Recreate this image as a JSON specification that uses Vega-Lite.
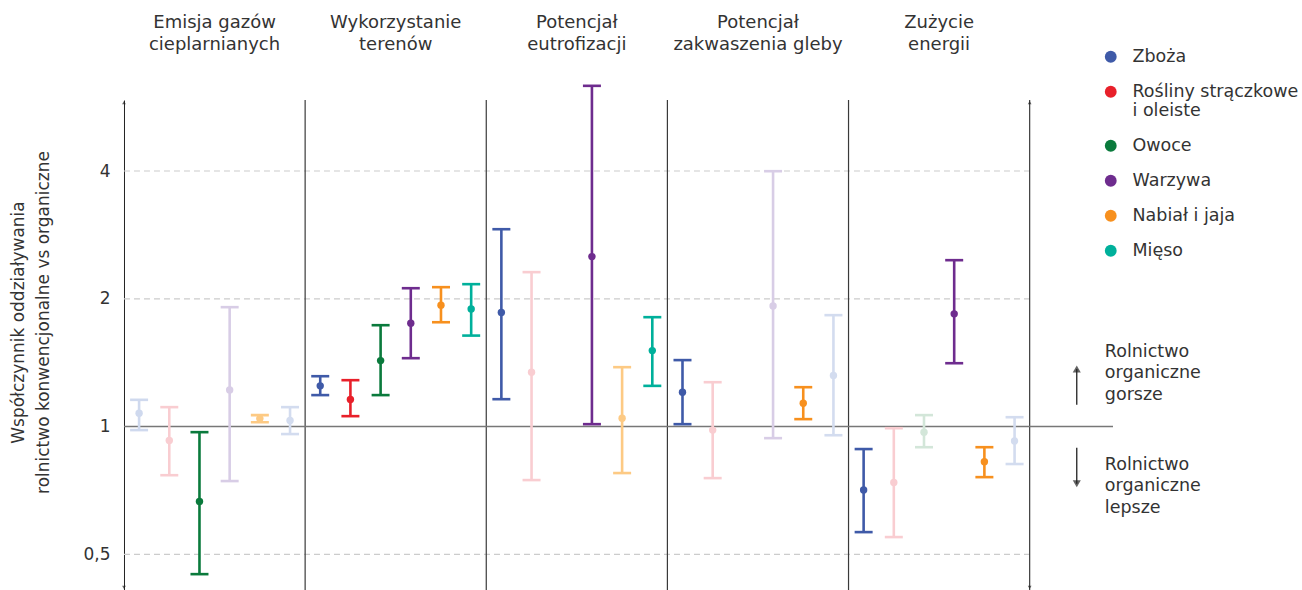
{
  "$schema": "https://vega.github.io/schema/vega-lite/v6.json",
  "width": 1086.8,
  "height": 490,
  "autosize": "none",
  "padding": {"left": 124, "top": 100, "right": 91, "bottom": 0},
  "background": "white",
  "config": {
    "font": "DejaVu Sans",
    "view": {"stroke": null},
    "axisY": {
      "grid": false,
      "ticks": false,
      "domainColor": "#222222",
      "domainWidth": 1,
      "labelPadding": 14,
      "labelFontSize": 17,
      "labelColor": "#333333",
      "titleFontSize": 17,
      "titleFontWeight": "normal",
      "titleColor": "#333333",
      "titleLineHeight": 25,
      "titleAngle": -90,
      "titleAlign": "center",
      "titleBaseline": "top",
      "titleX": -113,
      "titleY": 222
    },
    "axisX": {
      "orient": "top",
      "ticks": false,
      "domain": false,
      "grid": false,
      "labelAngle": 0,
      "labelFontSize": 18,
      "labelColor": "#333333",
      "labelLineHeight": 23,
      "labelPadding": 69,
      "labelLimit": 400,
      "labelOverlap": false,
      "title": null
    },
    "legend": {
      "orient": "none",
      "legendX": 978,
      "legendY": -52,
      "padding": 0,
      "title": null,
      "labelFontSize": 17.5,
      "labelColor": "#333333",
      "labelLimit": 400,
      "labelOffset": 13,
      "symbolType": "circle",
      "symbolSize": 140,
      "symbolStrokeWidth": 0,
      "rowPadding": 16
    }
  },
  "datasets": {
    "wyniki": [
      {"Obszar": "Emisja gazów cieplarnianych", "Grupa": "Zboża", "wartosc": 1.075, "dolna": 0.981, "gorna": 1.156, "istotny": false},
      {"Obszar": "Emisja gazów cieplarnianych", "Grupa": "Rośliny strączkowe i oleiste", "wartosc": 0.927, "dolna": 0.768, "gorna": 1.111, "istotny": false},
      {"Obszar": "Emisja gazów cieplarnianych", "Grupa": "Owoce", "wartosc": 0.666, "dolna": 0.449, "gorna": 0.970, "istotny": true},
      {"Obszar": "Emisja gazów cieplarnianych", "Grupa": "Warzywa", "wartosc": 1.220, "dolna": 0.744, "gorna": 1.911, "istotny": false},
      {"Obszar": "Emisja gazów cieplarnianych", "Grupa": "Nabiał i jaja", "wartosc": 1.044, "dolna": 1.024, "gorna": 1.064, "istotny": false},
      {"Obszar": "Emisja gazów cieplarnianych", "Grupa": "Mięso", "wartosc": 1.033, "dolna": 0.960, "gorna": 1.111, "istotny": false},
      {"Obszar": "Wykorzystanie terenów", "Grupa": "Zboża", "wartosc": 1.247, "dolna": 1.186, "gorna": 1.314, "istotny": true},
      {"Obszar": "Wykorzystanie terenów", "Grupa": "Rośliny strączkowe i oleiste", "wartosc": 1.158, "dolna": 1.058, "gorna": 1.286, "istotny": true},
      {"Obszar": "Wykorzystanie terenów", "Grupa": "Owoce", "wartosc": 1.430, "dolna": 1.186, "gorna": 1.733, "istotny": true},
      {"Obszar": "Wykorzystanie terenów", "Grupa": "Warzywa", "wartosc": 1.752, "dolna": 1.449, "gorna": 2.118, "istotny": true},
      {"Obszar": "Wykorzystanie terenów", "Grupa": "Nabiał i jaja", "wartosc": 1.932, "dolna": 1.761, "gorna": 2.130, "istotny": true},
      {"Obszar": "Wykorzystanie terenów", "Grupa": "Mięso", "wartosc": 1.893, "dolna": 1.638, "gorna": 2.165, "istotny": true},
      {"Obszar": "Potencjał eutrofizacji", "Grupa": "Zboża", "wartosc": 1.856, "dolna": 1.160, "gorna": 2.917, "istotny": true},
      {"Obszar": "Potencjał eutrofizacji", "Grupa": "Rośliny strączkowe i oleiste", "wartosc": 1.343, "dolna": 0.748, "gorna": 2.311, "istotny": false},
      {"Obszar": "Potencjał eutrofizacji", "Grupa": "Warzywa", "wartosc": 2.514, "dolna": 1.013, "gorna": 6.35, "istotny": true},
      {"Obszar": "Potencjał eutrofizacji", "Grupa": "Nabiał i jaja", "wartosc": 1.046, "dolna": 0.777, "gorna": 1.380, "istotny": false},
      {"Obszar": "Potencjał eutrofizacji", "Grupa": "Mięso", "wartosc": 1.510, "dolna": 1.247, "gorna": 1.810, "istotny": true},
      {"Obszar": "Potencjał zakwaszenia gleby", "Grupa": "Zboża", "wartosc": 1.205, "dolna": 1.013, "gorna": 1.434, "istotny": true},
      {"Obszar": "Potencjał zakwaszenia gleby", "Grupa": "Rośliny strączkowe i oleiste", "wartosc": 0.981, "dolna": 0.756, "gorna": 1.272, "istotny": false},
      {"Obszar": "Potencjał zakwaszenia gleby", "Grupa": "Warzywa", "wartosc": 1.924, "dolna": 0.939, "gorna": 3.996, "istotny": false},
      {"Obszar": "Potencjał zakwaszenia gleby", "Grupa": "Nabiał i jaja", "wartosc": 1.135, "dolna": 1.041, "gorna": 1.238, "istotny": true},
      {"Obszar": "Potencjał zakwaszenia gleby", "Grupa": "Mięso", "wartosc": 1.319, "dolna": 0.954, "gorna": 1.830, "istotny": false},
      {"Obszar": "Zużycie energii", "Grupa": "Zboża", "wartosc": 0.709, "dolna": 0.564, "gorna": 0.885, "istotny": true},
      {"Obszar": "Zużycie energii", "Grupa": "Rośliny strączkowe i oleiste", "wartosc": 0.738, "dolna": 0.549, "gorna": 0.991, "istotny": false},
      {"Obszar": "Zużycie energii", "Grupa": "Owoce", "wartosc": 0.970, "dolna": 0.894, "gorna": 1.064, "istotny": false},
      {"Obszar": "Zużycie energii", "Grupa": "Warzywa", "wartosc": 1.843, "dolna": 1.410, "gorna": 2.466, "istotny": true},
      {"Obszar": "Zużycie energii", "Grupa": "Nabiał i jaja", "wartosc": 0.826, "dolna": 0.760, "gorna": 0.894, "istotny": true},
      {"Obszar": "Zużycie energii", "Grupa": "Mięso", "wartosc": 0.925, "dolna": 0.816, "gorna": 1.052, "istotny": false}
    ],
    "adnotacje": [
      {"tekst": "Rolnictwo\norganiczne\ngorsze", "poz": 1.4995, "od": 1.125, "do": 1.367, "kierunek": "up"},
      {"tekst": "Rolnictwo\norganiczne\nlepsze", "poz": 0.8125, "od": 0.891, "do": 0.733, "kierunek": "down"}
    ]
  },
  "layer": [
    {
      "data": {"values": [{"v": 0.5}, {"v": 2}, {"v": 4}]},
      "mark": {"type": "rule", "color": "#cccccc", "strokeWidth": 1.2, "strokeDash": [6, 4]},
      "encoding": {
        "y": {"field": "v", "type": "quantitative", "scale": {"type": "log", "domain": [0.412, 5.88], "nice": false},
          "axis": {"values": [0.5, 1, 2, 4], "labelExpr": "replace(datum.label, '.', ',')", "title": ["Współczynnik oddziaływania", "rolnictwo konwencjonalne vs organiczne"]}},
        "x": {"datum": "Emisja gazów cieplarnianych", "type": "nominal", "bandPosition": 0,
          "scale": {"domain": ["Emisja gazów cieplarnianych", "Wykorzystanie terenów", "Potencjał eutrofizacji", "Potencjał zakwaszenia gleby", "Zużycie energii", "Adnotacje"], "paddingInner": 0, "paddingOuter": 0},
          "axis": {"bandPosition": 0.5, "labelExpr": "datum.label == 'Emisja gazów cieplarnianych' ? ['Emisja gazów', 'cieplarnianych'] : datum.label == 'Wykorzystanie terenów' ? ['Wykorzystanie', 'terenów'] : datum.label == 'Potencjał eutrofizacji' ? ['Potencjał', 'eutrofizacji'] : datum.label == 'Potencjał zakwaszenia gleby' ? ['Potencjał', 'zakwaszenia gleby'] : datum.label == 'Zużycie energii' ? ['Zużycie', 'energii'] : ''"}},
        "x2": {"datum": "Adnotacje", "bandPosition": 0}
      }
    },
    {
      "data": {"values": [{"Obszar": "Wykorzystanie terenów"}, {"Obszar": "Potencjał eutrofizacji"}, {"Obszar": "Potencjał zakwaszenia gleby"}, {"Obszar": "Zużycie energii"}, {"Obszar": "Adnotacje"}]},
      "mark": {"type": "rule", "color": "#3a3a3a", "strokeWidth": 1.2},
      "encoding": {
        "x": {"field": "Obszar", "type": "nominal", "bandPosition": 0,
          "scale": {"domain": ["Emisja gazów cieplarnianych", "Wykorzystanie terenów", "Potencjał eutrofizacji", "Potencjał zakwaszenia gleby", "Zużycie energii", "Adnotacje"], "paddingInner": 0, "paddingOuter": 0}}
      }
    },
    {
      "data": {"values": [{"v": 1}]},
      "mark": {"type": "rule", "color": "#777777", "strokeWidth": 1.5},
      "encoding": {
        "y": {"field": "v", "type": "quantitative", "scale": {"type": "log", "domain": [0.412, 5.88], "nice": false}},
        "x": {"datum": "Emisja gazów cieplarnianych", "type": "nominal", "bandPosition": 0},
        "x2": {"datum": "Adnotacje", "bandPosition": 0.46}
      }
    },
    {
      "data": {"values": [{"Obszar": "Emisja gazów cieplarnianych"}, {"Obszar": "Adnotacje"}]},
      "layer": [
        {
          "mark": {"type": "point", "shape": "triangle-up", "filled": true, "color": "#222222", "size": 14, "strokeWidth": 0},
          "encoding": {
            "x": {"field": "Obszar", "type": "nominal", "bandPosition": 0},
            "y": {"datum": 5.8, "type": "quantitative", "scale": {"type": "log", "domain": [0.412, 5.88], "nice": false}}
          }
        },
        {
          "mark": {"type": "point", "shape": "triangle-down", "filled": true, "color": "#222222", "size": 14, "strokeWidth": 0},
          "encoding": {
            "x": {"field": "Obszar", "type": "nominal", "bandPosition": 0},
            "y": {"datum": 0.418, "type": "quantitative", "scale": {"type": "log", "domain": [0.412, 5.88], "nice": false}}
          }
        }
      ]
    },
    {
      "data": {"name": "wyniki"},
      "transform": [{"filter": "!datum.istotny"}],
      "encoding": {
        "x": {"field": "Obszar", "type": "nominal"},
        "xOffset": {"field": "Grupa", "type": "nominal",
          "scale": {"domain": ["Zboża", "Rośliny strączkowe i oleiste", "Owoce", "Warzywa", "Nabiał i jaja", "Mięso"], "paddingInner": 0, "paddingOuter": 0}},
        "color": {"field": "Grupa", "type": "nominal", "legend": null,
          "scale": {"domain": ["Zboża", "Rośliny strączkowe i oleiste", "Owoce", "Warzywa", "Nabiał i jaja", "Mięso"],
            "range": ["#cfd9ee", "#f9cdd1", "#d3e6d9", "#d8cde6", "#fdca84", "#d3dcef"]}}
      },
      "layer": [
        {
          "mark": {"type": "rule", "strokeWidth": 2.6},
          "encoding": {
            "y": {"field": "dolna", "type": "quantitative", "scale": {"type": "log", "domain": [0.412, 5.88], "nice": false}},
            "y2": {"field": "gorna"}
          }
        },
        {
          "mark": {"type": "tick", "size": 18, "thickness": 2.6, "opacity": 1},
          "encoding": {"y": {"field": "gorna", "type": "quantitative", "scale": {"type": "log", "domain": [0.412, 5.88], "nice": false}}}
        },
        {
          "mark": {"type": "tick", "size": 18, "thickness": 2.6, "opacity": 1},
          "encoding": {"y": {"field": "dolna", "type": "quantitative", "scale": {"type": "log", "domain": [0.412, 5.88], "nice": false}}}
        },
        {
          "mark": {"type": "point", "filled": true, "size": 55, "opacity": 1, "strokeWidth": 0},
          "encoding": {"y": {"field": "wartosc", "type": "quantitative", "scale": {"type": "log", "domain": [0.412, 5.88], "nice": false}}}
        }
      ]
    },
    {
      "data": {"name": "wyniki"},
      "transform": [{"filter": "datum.istotny"}],
      "encoding": {
        "x": {"field": "Obszar", "type": "nominal"},
        "xOffset": {"field": "Grupa", "type": "nominal",
          "scale": {"domain": ["Zboża", "Rośliny strączkowe i oleiste", "Owoce", "Warzywa", "Nabiał i jaja", "Mięso"], "paddingInner": 0, "paddingOuter": 0}},
        "color": {"field": "Grupa", "type": "nominal",
          "scale": {"domain": ["Zboża", "Rośliny strączkowe i oleiste", "Owoce", "Warzywa", "Nabiał i jaja", "Mięso"],
            "range": ["#3f5aa8", "#e8202a", "#0a7a3c", "#6e2c8e", "#f7901e", "#00b09b"]},
          "legend": {"labelExpr": "datum.label == 'Rośliny strączkowe i oleiste' ? ['Rośliny strączkowe', 'i oleiste'] : datum.label"}}
      },
      "layer": [
        {
          "mark": {"type": "rule", "strokeWidth": 2.6},
          "encoding": {
            "y": {"field": "dolna", "type": "quantitative", "scale": {"type": "log", "domain": [0.412, 5.88], "nice": false}},
            "y2": {"field": "gorna"}
          }
        },
        {
          "mark": {"type": "tick", "size": 18, "thickness": 2.6, "opacity": 1},
          "encoding": {"y": {"field": "gorna", "type": "quantitative", "scale": {"type": "log", "domain": [0.412, 5.88], "nice": false}}}
        },
        {
          "mark": {"type": "tick", "size": 18, "thickness": 2.6, "opacity": 1},
          "encoding": {"y": {"field": "dolna", "type": "quantitative", "scale": {"type": "log", "domain": [0.412, 5.88], "nice": false}}}
        },
        {
          "mark": {"type": "point", "filled": true, "size": 55, "opacity": 1, "strokeWidth": 0},
          "encoding": {"y": {"field": "wartosc", "type": "quantitative", "scale": {"type": "log", "domain": [0.412, 5.88], "nice": false}}}
        }
      ]
    },
    {
      "data": {"name": "adnotacje"},
      "layer": [
        {
          "mark": {"type": "text", "lineBreak": "\n", "align": "left", "baseline": "middle", "fontSize": 17.5, "lineHeight": 21.5, "color": "#333333"},
          "encoding": {
            "x": {"datum": "Adnotacje", "type": "nominal", "bandPosition": 0.415},
            "y": {"field": "poz", "type": "quantitative", "scale": {"type": "log", "domain": [0.412, 5.88], "nice": false}},
            "text": {"field": "tekst"}
          }
        },
        {
          "mark": {"type": "rule", "color": "#222222", "strokeWidth": 1.3},
          "encoding": {
            "x": {"datum": "Adnotacje", "type": "nominal", "bandPosition": 0.26},
            "y": {"field": "od", "type": "quantitative", "scale": {"type": "log", "domain": [0.412, 5.88], "nice": false}},
            "y2": {"field": "do"}
          }
        },
        {
          "mark": {"type": "point", "filled": true, "color": "#222222", "size": 65, "strokeWidth": 0},
          "encoding": {
            "x": {"datum": "Adnotacje", "type": "nominal", "bandPosition": 0.26},
            "y": {"field": "do", "type": "quantitative", "scale": {"type": "log", "domain": [0.412, 5.88], "nice": false}},
            "shape": {"field": "kierunek", "type": "nominal", "legend": null,
              "scale": {"domain": ["up", "down"], "range": ["triangle-up", "triangle-down"]}}
          }
        }
      ]
    }
  ],
  "resolve": {"scale": {"color": "independent"}}
}
